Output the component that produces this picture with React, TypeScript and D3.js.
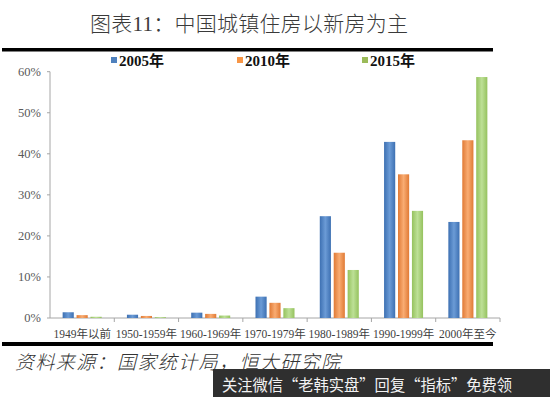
import React from "react";
import * as d3 from "d3";

// categories and series (share of housing stock by construction period)
const categories = ["1949年以前", "1950-1959年", "1960-1969年", "1970-1979年", "1980-1989年", "1990-1999年", "2000年至今"];
const seriesNames = ["2005年", "2010年", "2015年"];
const v2005 = [1.4, 0.8, 1.3, 5.2, 24.8, 42.9, 23.4];
const v2010 = [0.7, 0.5, 1.0, 3.7, 15.9, 35.0, 43.3];
const v2015 = [0.3, 0.2, 0.6, 2.4, 11.7, 26.1, 58.7];
const yTicks = [0, 10, 20, 30, 40, 50, 60];

const colors = [
  { edge: "#3d70b2", mid: "#6b9bd6", key: "#4f81bd" },
  { edge: "#e07a35", mid: "#f9ac72", key: "#f79646" },
  { edge: "#95c25e", mid: "#bde096", key: "#9bbb59" },
];

const serif = "'Liberation Serif', 'Noto Sans CJK SC', serif";

export default function App() {
  const W = 550, H = 397;
  const left = 50, right = 500, top = 71.7, bottom = 318;

  const x = d3.scaleBand().domain(categories).range([left, right]).paddingInner(0).paddingOuter(0);
  const y = d3.scaleLinear().domain([0, 60]).range([bottom, top]);
  const inner = d3.scaleBand().domain(seriesNames).range([0, 39]).paddingInner(0.2);
  const series = [v2005, v2010, v2015];

  return (
    <svg width={W} height={H} style={{ display: "block", position: "absolute", left: 0, top: 0 }}>
      <defs>
        {colors.map((c, i) => (
          <linearGradient key={i} id={`g${i}`} x1="0" x2="1" y1="0" y2="0">
            <stop offset="0%" stopColor={c.edge} />
            <stop offset="50%" stopColor={c.mid} />
            <stop offset="100%" stopColor={c.edge} />
          </linearGradient>
        ))}
      </defs>
      <rect width={W} height={H} fill="#fff" />

      {/* title */}
      <text x={249} y={31} textAnchor="middle" fontFamily={serif} fontSize={21} fontWeight={300} fill="#3a3a3a"
        textLength={318} lengthAdjust="spacing">图表11：中国城镇住房以新房为主</text>
      <rect x={2} y={48} width={491} height={3.5} fill="#000" />

      {/* legend */}
      {seriesNames.map((s, i) => {
        const lx = [111, 237, 362][i];
        return (
          <g key={s}>
            <rect x={lx} y={57} width={6} height={6} fill={colors[i].key} />
            <text x={lx + 8} y={65.5} fontFamily={serif} fontSize={15} fontWeight="bold" fill="#111">{s}</text>
          </g>
        );
      })}

      {/* y axis */}
      <line x1={left} x2={left} y1={top} y2={bottom} stroke="#a6a6a6" />
      {yTicks.map(t => (
        <g key={t}>
          <line x1={left - 3} x2={left} y1={y(t)} y2={y(t)} stroke="#a6a6a6" />
          <text x={41} y={y(t) + 4} textAnchor="end" fontFamily={serif} fontSize={12.5} fill="#595959">{t}%</text>
        </g>
      ))}

      {/* x axis */}
      <line x1={left} x2={right} y1={bottom} y2={bottom} stroke="#a6a6a6" />
      {categories.map((c, i) => (
        <line key={c} x1={left + x.step() * (i + 1)} x2={left + x.step() * (i + 1)} y1={bottom} y2={bottom + 4} stroke="#a6a6a6" />
      ))}
      {categories.map(c => (
        <text key={c} x={(x(c) ?? 0) + x.bandwidth() / 2} y={337.5} textAnchor="middle"
          fontFamily={serif} fontSize={11.5} fill="#404040">{c}</text>
      ))}

      {/* bars */}
      {series.map((vals, si) =>
        vals.map((v, ci) => {
          const bx = (x(categories[ci]) ?? 0) + (x.bandwidth() - 39) / 2 + (inner(seriesNames[si]) ?? 0);
          return (
            <rect key={`${si}-${ci}`} x={bx} y={y(v)} width={inner.bandwidth()} height={bottom - y(v)}
              fill={`url(#g${si})`} />
          );
        })
      )}

      {/* bottom rule and source */}
      <rect x={2} y={342} width={491} height={4} fill="#000" />
      <text x={15} y={369} fontFamily={serif} fontSize={19} fontWeight={300} fontStyle="italic" fill="#333"
        textLength={325} lengthAdjust="spacing">资料来源：国家统计局，恒大研究院</text>

      {/* banner */}
      <rect x={213} y={369} width={337} height={28} fill="#2f2f2f" />
      <text x={222} y={391} fontFamily="'Noto Sans CJK SC', sans-serif" fontSize={16} fill="#f2f2f2"
        textLength={290} lengthAdjust="spacingAndGlyphs">关注微信“老韩实盘”回复“指标”免费领</text>
    </svg>
  );
}
